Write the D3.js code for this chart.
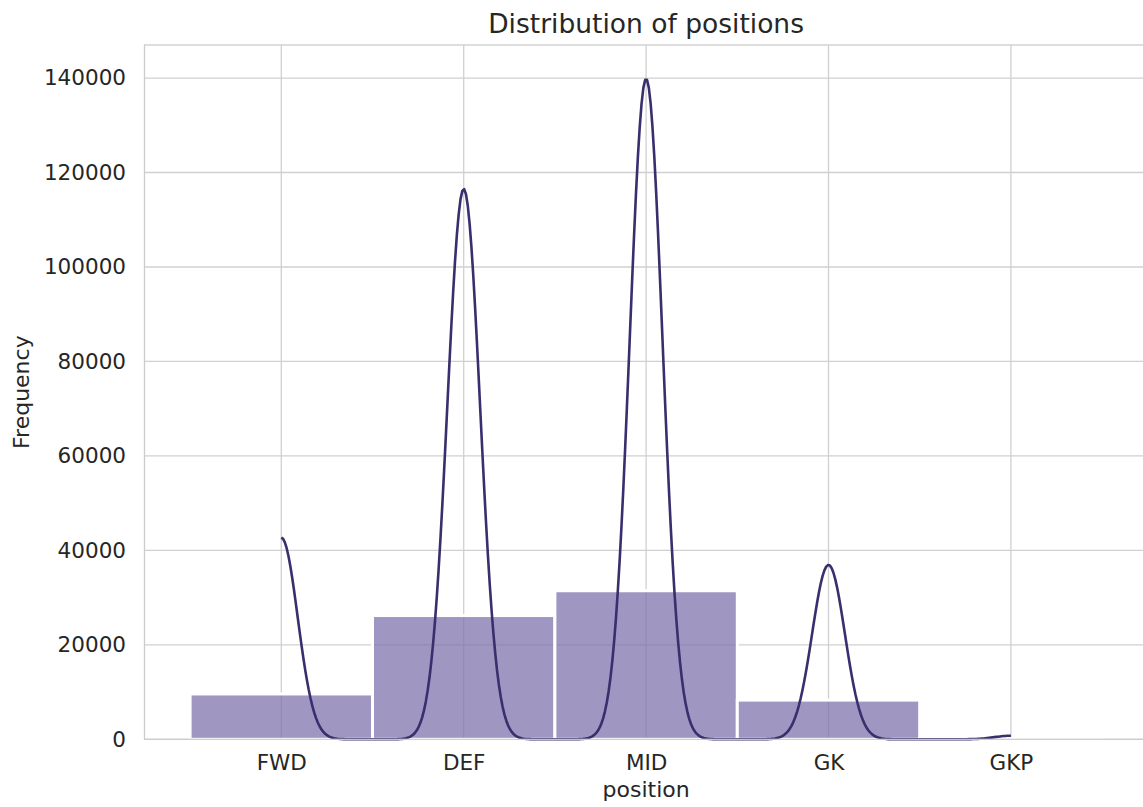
<!DOCTYPE html>
<html>
<head>
<meta charset="utf-8">
<script src="https://cdn.jsdelivr.net/npm/d3@7"></script>
<style>
  html, body { margin: 0; padding: 0; background: #fff; }
  svg { display: block; }
  text { font-family: "DejaVu Sans", sans-serif; fill: #262626; }
</style>
</head>
<body>
<svg id="chart" width="1143" height="807"></svg>
<script>
// ---- data ----
const categories = ["FWD", "DEF", "MID", "GK", "GKP"];
const counts = [9600, 26200, 31450, 8300, 170];
const yTicks = [0, 20000, 40000, 60000, 80000, 100000, 120000, 140000];
const kdeBandwidth = 0.0897; // in category units, as estimated from the curve width
const titleText = "Distribution of positions";
const xLabel = "position";
const yLabel = "Frequency";

// ---- layout ----
const svg = d3.select("#chart");
const plot = { left: 144.5, right: 1147.7, top: 45, bottom: 739.3 };

const x = d3.scaleLinear().domain([-0.75, 4.75]).range([plot.left, plot.right]);
const y = d3.scaleLinear().domain([0, 147000]).range([plot.bottom, plot.top]);

// ---- KDE (gaussian, cut at data range, scaled to counts * bin width) ----
const nGrid = 400;
const gridX = d3.range(nGrid).map(i => 0 + 4 * i / (nGrid - 1));
const norm = 1 / (Math.sqrt(2 * Math.PI) * kdeBandwidth);
const kde = gridX.map(gx => {
  let s = 0;
  counts.forEach((c, i) => {
    const z = (gx - i) / kdeBandwidth;
    s += c * norm * Math.exp(-0.5 * z * z);
  });
  return [gx, s];
});

// ---- grid ----
const grid = svg.append("g");
grid.selectAll("line.h").data(yTicks).join("line")
  .attr("x1", plot.left).attr("x2", plot.right)
  .attr("y1", d => y(d)).attr("y2", d => y(d))
  .attr("stroke", "#d0d0d0").attr("stroke-width", 1.3);
grid.selectAll("line.v").data(categories).join("line")
  .attr("x1", (d, i) => x(i)).attr("x2", (d, i) => x(i))
  .attr("y1", plot.top).attr("y2", plot.bottom)
  .attr("stroke", "#d0d0d0").attr("stroke-width", 1.3);

// ---- bars ----
svg.append("g").selectAll("rect").data(counts).join("rect")
  .attr("x", (d, i) => x(i - 0.5))
  .attr("width", (d, i) => x(i + 0.5) - x(i - 0.5))
  .attr("y", d => y(d))
  .attr("height", d => y(0) - y(d))
  .attr("fill", "#7f74ae")
  .attr("fill-opacity", 0.75)
  .attr("stroke", "#ffffff")
  .attr("stroke-width", 3);

// ---- kde line ----
const line = d3.line().x(d => x(d[0])).y(d => y(d[1])).curve(d3.curveLinear);
svg.append("path").datum(kde)
  .attr("d", line)
  .attr("fill", "none")
  .attr("stroke", "#3a2e6c")
  .attr("stroke-width", 2.6)
  .attr("stroke-linejoin", "round");

// ---- spines ----
const sp = svg.append("g").attr("stroke", "#cccccc").attr("stroke-width", 1.3).attr("fill", "none");
sp.append("rect")
  .attr("x", plot.left).attr("y", plot.top)
  .attr("width", plot.right - plot.left).attr("height", plot.bottom - plot.top);

// ---- axes (labels only, no tick marks) ----
const yAxis = d3.axisLeft(y).tickValues(yTicks).tickFormat(d3.format("d")).tickSize(0).tickPadding(18.5);
const gy = svg.append("g").attr("transform", `translate(${plot.left},0)`).call(yAxis);
gy.select(".domain").remove();
gy.selectAll("text").style("font-size", "21.5px").attr("fill", "#262626").attr("font-family", "DejaVu Sans");

const xBand = d3.scalePoint().domain(categories).range([x(0), x(4)]);
const xAxis = d3.axisBottom(xBand).tickSize(0).tickPadding(15);
const gx = svg.append("g").attr("transform", `translate(0,${plot.bottom})`).call(xAxis);
gx.select(".domain").remove();
gx.selectAll("text").style("font-size", "21.5px").attr("fill", "#262626").attr("font-family", "DejaVu Sans");

// ---- titles ----
svg.append("text")
  .attr("x", (plot.left + plot.right) / 2).attr("y", 33)
  .attr("text-anchor", "middle").style("font-size", "26.5px")
  .text(titleText);
svg.append("text")
  .attr("x", (plot.left + plot.right) / 2).attr("y", 797)
  .attr("text-anchor", "middle").style("font-size", "22px")
  .text(xLabel);
svg.append("text")
  .attr("transform", `translate(29,${(plot.top + plot.bottom) / 2}) rotate(-90)`)
  .attr("text-anchor", "middle").style("font-size", "22px")
  .text(yLabel);
</script>
</body>
</html>
